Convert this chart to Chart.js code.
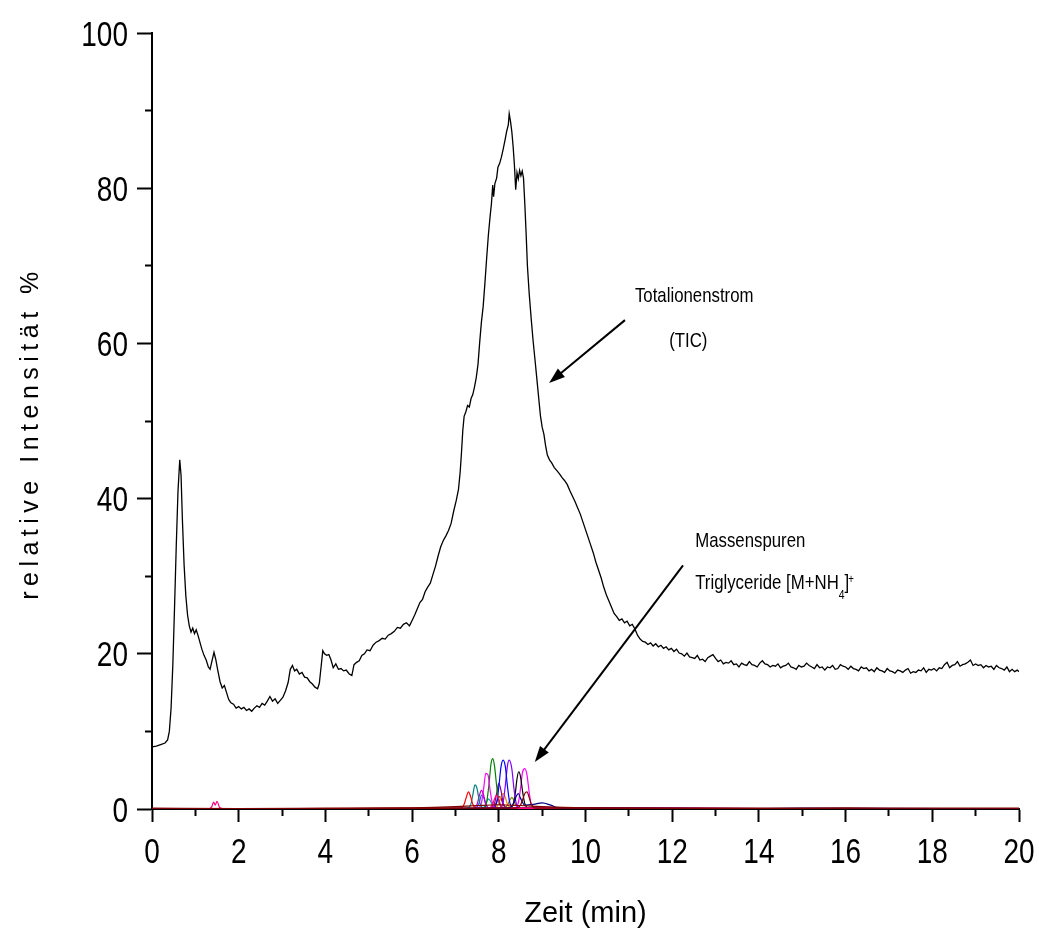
<!DOCTYPE html>
<html><head><meta charset="utf-8">
<script src="https://cdn.jsdelivr.net/npm/chart.js@4.4.0/dist/chart.umd.min.js"></script>
<style>html,body{margin:0;padding:0;background:#fff;}#wrap{width:1039px;height:930px;}</style>
</head><body><div id="wrap"><canvas id="c" width="1039" height="930"></canvas></div>
<script>
// ---------- axis ticks ----------
const xMajorTicks = [0,2,4,6,8,10,12,14,16,18,20];
const yMajorTicks = [0,20,40,60,80,100];

// ---------- TIC (Totalionenstrom) ----------
const ticTime = [0.00,0.10,0.20,0.30,0.36,0.40,0.44,0.48,0.52,0.56,0.60,0.64,0.67,0.70,0.74,0.78,0.82,0.86,0.90,0.94,0.98,1.02,1.06,1.10,1.15,1.20,1.25,1.30,1.34,1.38,1.43,1.47,1.52,1.57,1.62,1.67,1.72,1.77,1.82,1.88,1.94,2.00,2.06,2.12,2.18,2.24,2.30,2.36,2.42,2.48,2.54,2.60,2.66,2.72,2.78,2.84,2.90,2.96,3.02,3.08,3.14,3.19,3.24,3.29,3.34,3.40,3.46,3.52,3.58,3.64,3.70,3.76,3.82,3.86,3.90,3.94,3.98,4.03,4.08,4.13,4.18,4.24,4.30,4.36,4.42,4.48,4.55,4.61,4.66,4.72,4.78,4.84,4.90,4.96,5.03,5.10,5.17,5.24,5.31,5.38,5.45,5.52,5.59,5.66,5.73,5.80,5.87,5.94,6.00,6.06,6.12,6.18,6.24,6.30,6.36,6.42,6.48,6.54,6.60,6.66,6.72,6.78,6.84,6.90,6.96,7.02,7.07,7.11,7.14,7.17,7.20,7.24,7.28,7.32,7.36,7.40,7.44,7.48,7.52,7.56,7.60,7.64,7.68,7.72,7.76,7.80,7.83,7.86,7.88,7.91,7.95,7.98,8.02,8.06,8.10,8.14,8.18,8.22,8.24,8.27,8.30,8.33,8.36,8.39,8.42,8.45,8.48,8.51,8.54,8.57,8.60,8.63,8.66,8.70,8.75,8.79,8.84,8.88,8.92,8.96,9.00,9.04,9.08,9.12,9.17,9.22,9.28,9.34,9.40,9.46,9.52,9.58,9.64,9.70,9.76,9.82,9.88,9.94,10.00,10.06,10.12,10.18,10.24,10.30,10.36,10.42,10.48,10.54,10.60,10.66,10.72,10.78,10.84,10.90,10.96,11.02,11.08,11.14,11.20,11.26,11.32,11.38,11.44,11.50,11.56,11.62,11.68,11.74,11.80,11.86,11.92,11.98,12.04,12.10,12.16,12.22,12.28,12.34,12.40,12.46,12.52,12.58,12.64,12.70,12.76,12.82,12.88,12.94,13.00,13.06,13.12,13.18,13.24,13.30,13.36,13.42,13.48,13.54,13.60,13.66,13.72,13.78,13.84,13.90,13.96,14.02,14.08,14.14,14.20,14.26,14.32,14.38,14.44,14.50,14.56,14.62,14.68,14.74,14.80,14.86,14.92,14.98,15.04,15.10,15.16,15.22,15.28,15.34,15.40,15.46,15.52,15.58,15.64,15.70,15.76,15.82,15.88,15.94,16.00,16.06,16.12,16.18,16.24,16.30,16.36,16.42,16.48,16.54,16.60,16.66,16.72,16.78,16.84,16.90,16.96,17.02,17.08,17.14,17.20,17.26,17.32,17.38,17.44,17.50,17.56,17.62,17.68,17.74,17.80,17.86,17.92,17.98,18.04,18.10,18.16,18.22,18.28,18.34,18.40,18.46,18.52,18.58,18.64,18.70,18.76,18.82,18.88,18.94,19.00,19.06,19.12,19.18,19.24,19.30,19.36,19.42,19.48,19.54,19.60,19.66,19.72,19.78,19.84,19.90,19.96,20.00];
const ticValue = [8.0,8.1,8.3,8.5,8.9,10.0,13.0,18.5,26.0,34.0,41.0,45.0,43.0,37.5,31.5,27.5,25.0,23.6,22.8,23.3,22.6,23.1,22.4,21.6,20.6,19.8,19.2,18.3,18.0,19.0,20.2,19.3,17.8,16.4,15.6,15.9,15.0,14.1,13.7,13.5,13.0,13.2,12.9,13.1,12.7,12.9,12.6,13.0,13.3,13.1,13.6,13.4,13.9,14.5,13.9,14.2,13.6,14.0,14.4,15.2,16.3,18.0,18.5,17.8,18.0,17.4,17.6,17.0,16.9,16.4,16.1,15.7,15.5,16.2,18.3,20.4,20.0,19.8,19.9,19.2,18.2,18.7,18.0,18.1,17.8,17.9,17.4,17.2,18.6,18.9,19.1,19.8,20.0,20.5,20.4,21.1,21.5,21.7,22.0,21.9,22.4,22.6,22.9,23.4,23.3,23.8,24.0,23.6,24.3,25.0,25.8,26.6,27.0,28.0,28.6,29.1,30.2,31.3,32.6,33.8,34.6,35.2,35.9,36.8,38.4,39.8,41.2,43.5,46.0,48.8,50.6,51.2,52.0,51.8,52.9,53.4,54.4,55.6,57.3,60.2,62.8,64.8,67.8,71.0,74.0,76.4,78.0,80.4,78.9,80.6,81.3,82.7,83.2,84.0,85.0,86.1,87.3,88.2,89.6,88.6,87.3,85.4,83.0,79.8,82.0,81.2,82.3,81.6,82.2,81.3,78.0,74.2,70.0,66.5,63.0,60.4,57.6,55.3,53.0,50.7,49.2,48.3,46.8,45.6,45.0,44.6,44.0,43.6,43.2,42.7,42.3,41.8,41.0,40.3,39.6,38.8,38.0,37.0,36.0,35.0,34.0,33.0,31.8,30.8,29.8,28.6,27.6,26.8,26.0,25.2,24.8,24.3,24.5,24.0,24.2,23.6,23.8,23.2,22.4,21.9,21.6,21.5,21.2,21.4,21.0,21.3,20.9,21.1,20.7,20.9,20.5,20.7,
20.3,20.6,20.1,20.0,19.7,20.1,19.6,19.5,19.4,19.8,
19.2,19.3,19.0,19.5,19.7,19.9,19.4,19.0,19.2,18.7,
18.9,18.8,19.1,18.6,18.7,18.3,18.8,18.6,18.5,19.0,
18.6,18.5,18.3,18.8,19.1,18.7,18.6,18.3,18.5,18.4,
18.7,18.2,18.4,18.5,18.8,18.3,18.2,18.0,18.5,18.3,
18.4,18.8,18.5,18.3,18.1,18.6,18.2,18.3,17.9,18.3,
18.2,18.5,18.0,18.1,18.6,18.4,18.3,18.0,18.4,18.1,
18.0,17.8,18.3,18.1,18.2,17.8,18.0,17.7,18.2,17.9,
17.8,17.6,18.1,17.8,17.7,17.5,17.9,17.8,17.6,17.9,
18.1,17.5,17.7,17.6,17.9,17.8,18.2,17.6,18.0,17.9,
18.1,17.8,18.2,18.1,18.6,18.9,18.2,18.5,18.6,19.0,
18.4,18.6,18.7,18.9,19.2,18.5,18.7,18.5,18.6,18.2,
18.5,18.3,18.4,18.0,18.5,18.2,18.1,17.9,18.3,17.7,
18.0,17.7,17.9,17.7];

// ---------- Massenspuren (ion traces) ----------
const trace01T = [0,1.30,1.38,1.42,1.46,1.50,1.56,1.70,7.75,7.85,7.90,7.95,8.00,8.05,8.15,20];
const trace01V = [0,0,0.3,0.9,0.5,1.0,0.2,0,0.05,0.5,1.3,1.8,1.2,0.4,0.05,0];
const trace02T = [0,7.00,7.15,7.20,7.25,7.30,7.35,7.40,7.45,7.55,20];
const trace02V = [0,0.1,0.2,0.6,1.5,2.2,1.6,0.6,0.2,0.1,0];
const trace03T = [0,7.25,7.35,7.40,7.45,7.50,7.55,7.60,7.70,20];
const trace03V = [0,0.05,0.5,1.8,3.1,2.6,1.0,0.3,0.05,0];
const trace04T = [0,7.40,7.50,7.55,7.60,7.65,7.70,7.80,20];
const trace04V = [0,0.05,0.6,1.7,2.4,1.8,0.6,0.1,0];
const trace05T = [0,7.50,7.60,7.65,7.70,7.75,7.80,7.85,7.95,20];
const trace05V = [0,0.05,0.8,2.6,4.6,4.4,2.4,0.8,0.1,0];
const trace06T = [0,7.65,7.72,7.77,7.82,7.86,7.90,7.95,8.00,8.10,20];
const trace06V = [0,0.05,0.9,3.0,5.8,6.5,5.6,3.0,1.0,0.1,0];
const trace07T = [0,7.85,7.95,8.00,8.05,8.10,8.15,8.20,8.25,8.35,20];
const trace07V = [0,0.05,0.8,2.8,5.4,6.3,5.5,2.9,0.9,0.1,0];
const trace08T = [0,8.00,8.10,8.15,8.20,8.24,8.30,8.35,8.40,8.50,20];
const trace08V = [0,0.05,0.9,3.0,5.6,6.3,5.2,2.6,0.8,0.1,0];
const trace09T = [0,7.80,7.90,7.95,8.00,8.05,8.10,8.20,20];
const trace09V = [0,0.05,0.7,2.0,3.3,2.4,0.8,0.1,0];
const trace10T = [0,8.25,8.33,8.38,8.42,8.46,8.50,8.55,8.60,8.70,20];
const trace10V = [0,0.05,0.6,2.0,3.9,4.8,4.2,2.2,0.7,0.1,0];
const trace11T = [0,8.35,8.45,8.50,8.55,8.60,8.65,8.70,8.75,8.85,20];
const trace11V = [0,0.05,0.8,2.6,4.8,5.2,4.4,2.2,0.6,0.1,0];
const trace12T = [0,7.90,8.00,8.05,8.10,8.15,8.20,8.30,20];
const trace12V = [0,0.1,0.7,1.6,2.0,1.5,0.6,0.1,0];
const trace13T = [0,8.10,8.20,8.25,8.30,8.35,8.40,8.50,20];
const trace13V = [0,0.05,0.5,1.1,1.5,1.1,0.4,0.05,0];
const trace14T = [0,7.45,7.55,7.60,7.65,7.70,7.80,20];
const trace14V = [0,0.05,0.8,1.8,1.5,0.6,0.05,0];
const trace15T = [0,7.60,7.70,7.75,7.80,7.85,7.95,20];
const trace15V = [0,0.05,0.6,1.3,1.1,0.5,0.05,0];
const trace16T = [0,7.85,7.95,8.00,8.05,8.10,8.20,20];
const trace16V = [0,0.1,0.9,1.6,1.4,0.6,0.1,0];
const trace17T = [0,8.20,8.35,8.40,8.45,8.50,8.60,8.80,9.00,9.20,9.40,14.0,15.0,20];
const trace17V = [0,0.1,0.8,1.6,2.0,1.4,0.5,0.6,0.8,0.5,0.1,0.05,0.1,0];
const trace18T = [0,8.40,8.50,8.55,8.60,8.65,8.70,8.75,8.85,20];
const trace18V = [0,0.1,0.5,1.2,2.0,2.2,1.5,0.6,0.1,0];
const trace19T = [0,2,4,6,6.5,7,7.5,8,8.5,9,9.5,10,12,14,16,18,20];
const trace19V = [0.1,0.05,0.1,0.15,0.2,0.3,0.45,0.55,0.45,0.3,0.2,0.15,0.1,0.1,0.15,0.1,0.1];

const massSeries = [
  [trace19T,trace19V],[trace18T,trace18V],[trace17T,trace17V],[trace01T,trace01V],
  [trace02T,trace02V],[trace03T,trace03V],[trace04T,trace04V],[trace05T,trace05V],
  [trace06T,trace06V],[trace07T,trace07V],[trace08T,trace08V],[trace09T,trace09V],
  [trace10T,trace10V],[trace11T,trace11V],[trace12T,trace12V],[trace13T,trace13V],
  [trace14T,trace14V],[trace15T,trace15V],[trace16T,trace16V]
];
const massColors = ['#800000','#800000','#000080','#ff0080',
  '#ff0000','#008080','#c000c0','#ff00ff',
  '#008000','#0000ff','#8000ff','#800080',
  '#000000','#ff00ff','#ff8000','#808000',
  '#3050ff','#00a0a0','#a00000'];

// ---------- annotations (data coordinates) ----------
const arrowStarts = [[10.91,63.0],[12.25,31.4]];
const arrowEnds   = [[9.16,54.9],[8.83,6.06]];
const labelTexts  = ['Totalionenstrom','(TIC)','Massenspuren'];
const labelPos    = [[11.14,65.3],[11.93,59.5],[12.53,33.8]];
const trigPos     = [12.53,28.35];

const SANS = '"Liberation Sans", Arial, sans-serif';
const NARROW_X = 0.8;

const datasets = [];
massSeries.forEach((s,i)=>{
  datasets.push({
    data: s[0].map((t,j)=>({x:t,y:s[1][j]})),
    borderColor: massColors[i], borderWidth: 1.2, pointRadius: 0,
    cubicInterpolationMode: 'monotone', tension: 0.4, fill: false
  });
});
datasets.push({
  data: ticTime.map((t,j)=>({x:t,y:ticValue[j]})),
  borderColor: '#000', borderWidth: 1.3, pointRadius: 0, tension: 0, fill: false
});

function narrowText(ctx, text, px, py, size, align){
  ctx.save();
  ctx.font = size + 'px ' + SANS;
  ctx.textAlign = align || 'left';
  ctx.textBaseline = 'alphabetic';
  ctx.translate(px, py);
  ctx.scale(NARROW_X, 1);
  ctx.fillText(text, 0, 0);
  const w = ctx.measureText(text).width * NARROW_X;
  ctx.restore();
  return w;
}

const overlay = {
  id: 'overlay',
  afterDraw(chart){
    const {ctx, chartArea, scales:{x, y}} = chart;
    ctx.save();
    ctx.fillStyle = '#000'; ctx.strokeStyle = '#000';
    // tick labels
    xMajorTicks.forEach(v => narrowText(ctx, String(v), x.getPixelForValue(v), 863, 35, 'center'));
    yMajorTicks.forEach(v => narrowText(ctx, String(v), 128, y.getPixelForValue(v) + 12.5, 35, 'right'));
    // arrows
    arrowStarts.forEach((s,i)=>{
      const e = arrowEnds[i];
      const x1 = x.getPixelForValue(s[0]), y1 = y.getPixelForValue(s[1]);
      const x2 = x.getPixelForValue(e[0]), y2 = y.getPixelForValue(e[1]);
      const a = Math.atan2(y2-y1, x2-x1);
      const L = 16, W = 5.5;
      const bx = x2 - L*Math.cos(a), by = y2 - L*Math.sin(a);
      ctx.lineWidth = 2;
      ctx.beginPath(); ctx.moveTo(x1,y1); ctx.lineTo(bx+2*Math.cos(a),by+2*Math.sin(a)); ctx.stroke();
      ctx.beginPath(); ctx.moveTo(x2,y2);
      ctx.lineTo(bx + W*Math.sin(a), by - W*Math.cos(a));
      ctx.lineTo(bx - W*Math.sin(a), by + W*Math.cos(a));
      ctx.closePath(); ctx.fill();
    });
    // annotation labels
    labelTexts.forEach((t,i)=>{
      narrowText(ctx, t, x.getPixelForValue(labelPos[i][0]), y.getPixelForValue(labelPos[i][1]), 21, 'left');
    });
    let tx = x.getPixelForValue(trigPos[0]); const ty = y.getPixelForValue(trigPos[1]);
    tx += narrowText(ctx, 'Triglyceride [M+NH', tx, ty, 21, 'left');
    tx += narrowText(ctx, '4', tx, ty + 10, 13, 'left');
    tx += narrowText(ctx, ']', tx, ty, 21, 'left');
    narrowText(ctx, '+', tx - 1, ty - 6, 12, 'left');
    // axis titles
    ctx.font = '29px ' + SANS; ctx.textAlign = 'center'; ctx.textBaseline = 'alphabetic';
    ctx.fillText('Zeit (min)', (chartArea.left + chartArea.right)/2, 922);
    ctx.save();
    ctx.translate(38, (chartArea.top + chartArea.bottom)/2 + 12);
    ctx.rotate(-Math.PI/2);
    ctx.font = '25px ' + SANS;
    ctx.letterSpacing = '5.5px';
    ctx.fillText('relative Intensität %', 0, 0);
    ctx.restore();
    ctx.restore();
  }
};

new Chart(document.getElementById('c'), {
  type: 'line',
  data: { datasets },
  options: {
    responsive: false, animation: false, devicePixelRatio: 1,
    layout: { padding: { top: 33, right: 20, left: 0, bottom: 0 } },
    plugins: { legend: { display: false }, tooltip: { enabled: false } },
    scales: {
      x: {
        type: 'linear', min: 0, max: 20,
        afterFit: s => { s.height = 121; },
        border: { display: true, color: '#000', width: 2 },
        grid: {
          drawOnChartArea: false, drawTicks: true, tickLength: 13, tickWidth: 2, tickColor: '#000',
          tickBorderDash: c => (c.tick && !xMajorTicks.includes(c.tick.value)) ? [6, 60] : []
        },
        ticks: { stepSize: 1, autoSkip: false, maxRotation: 0, display: false }
      },
      y: {
        type: 'linear', min: 0, max: 100,
        afterFit: s => { s.width = 152; },
        border: { display: true, color: '#000', width: 2 },
        grid: {
          drawOnChartArea: false, drawTicks: true, tickLength: 15, tickWidth: 2, tickColor: '#000',
          tickBorderDash: c => (c.tick && !yMajorTicks.includes(c.tick.value)) ? [0, 8, 8, 60] : []
        },
        ticks: { stepSize: 10, autoSkip: false, display: false }
      }
    }
  },
  plugins: [overlay]
});
</script>
</body></html>
